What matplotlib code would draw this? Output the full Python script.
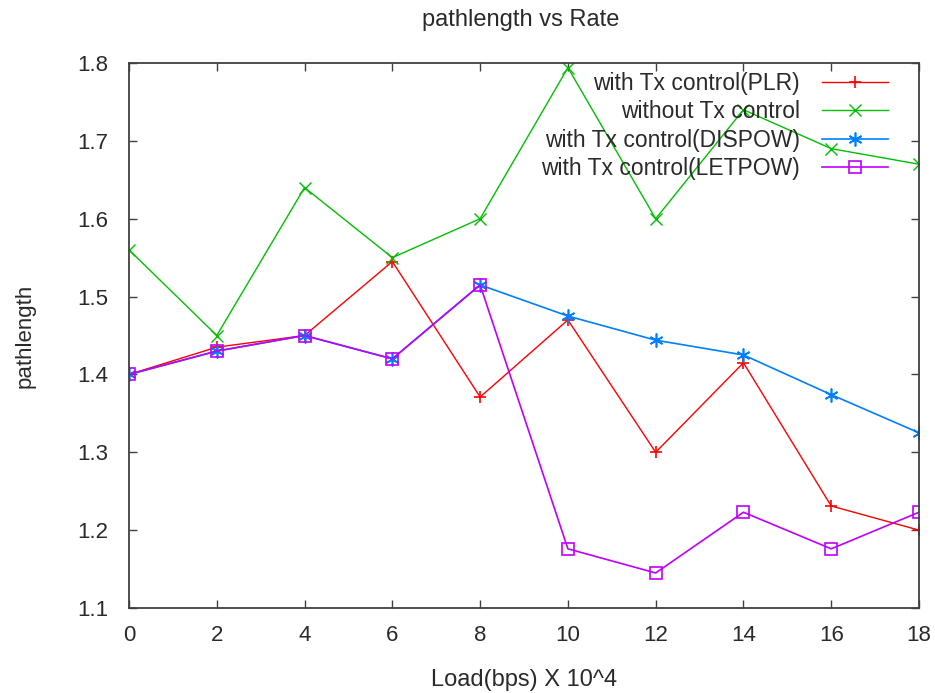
import matplotlib.pyplot as plt
import numpy as np

plt.rcParams['font.family'] = ['Liberation Sans', 'DejaVu Sans']

# load in units of 10^4 bps
load = [0, 2, 4, 6, 8, 10, 12, 14, 16, 18]

plr = [1.40, 1.435, 1.45, 1.545, 1.371, 1.47, 1.30, 1.415, 1.231, 1.20]
no_ctrl = [1.56, 1.45, 1.64, 1.55, 1.60, 1.794, 1.60, 1.74, 1.69, 1.67]
dispow = [1.40, 1.43, 1.45, 1.42, 1.515, 1.475, 1.444, 1.425, 1.374, 1.325]
letpow = [1.40, 1.43, 1.45, 1.42, 1.515, 1.176, 1.145, 1.223, 1.176, 1.223]

names = ["with Tx control(PLR)", "without Tx control",
         "with Tx control(DISPOW)", "with Tx control(LETPOW)"]

txt = '#2a2a2a'

fig = plt.figure(figsize=(9.35, 6.93), dpi=100)
ax = fig.add_axes([129 / 935, 1 - 608 / 693, 790 / 935, 545 / 693])

ax.plot(load, plr, color='#ff0000', lw=1, marker='+', ms=9, mew=1.2, label=names[0])
ax.plot(load, no_ctrl, color='#00c000', lw=1, marker='x', ms=8, mew=1, label=names[1])
ax.plot(load, dispow, color='#0080ff', lw=1.2, marker=(6, 2, 0), ms=10, mew=1.2, label=names[2])
ax.plot(load, letpow, color='#c000ff', lw=1.2, marker='s', ms=8, mfc='none', mew=1.2, label=names[3])

ax.set_xlim(0, 18)
ax.set_ylim(1.1, 1.8)
ax.set_xticks(np.arange(0, 19, 2))
ax.set_yticks(np.arange(1.1, 1.81, 0.1))
ax.set_yticklabels(["%.1f" % v for v in np.arange(1.1, 1.81, 0.1)])
ax.tick_params(direction='in', top=True, right=True, length=6, width=1,
               color='#404040', labelsize=16, labelcolor=txt)
ax.tick_params(axis='y', pad=15)
ax.tick_params(axis='x', pad=12)
for s in ax.spines.values():
    s.set_color('#404040')
    s.set_linewidth(1.3)

ax.set_xlabel("Load(bps) X 10^4", fontsize=17, color=txt, labelpad=17)
ax.set_ylabel("pathlength", fontsize=16, color=txt, labelpad=30)
fig.text(521 / 935, 1 - 20 / 693, "pathlength vs Rate", ha='center', va='center',
         fontsize=17, color=txt)

ax.legend(loc='upper right', bbox_to_anchor=(888 / 935, 1 - 72 / 693),
          bbox_transform=fig.transFigure, borderaxespad=0, borderpad=0,
          frameon=False, markerfirst=False, fontsize=16.5, handlelength=2.9,
          labelspacing=0.23, handletextpad=0.95, labelcolor=txt)

fig.savefig("out.png", dpi=100)
